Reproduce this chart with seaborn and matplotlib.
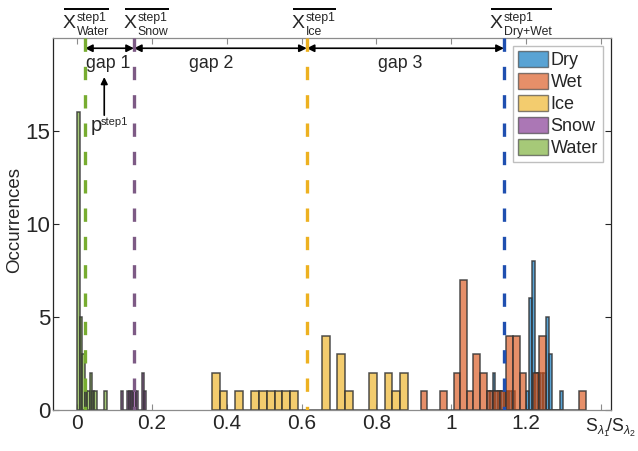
import matplotlib
matplotlib.use("Agg")
import matplotlib.pyplot as plt
import numpy as np
import pandas as pd
import seaborn as sns
from matplotlib.lines import Line2D
from matplotlib.patches import Patch
from matplotlib.transforms import IdentityTransform

# histogram of each class:
# left edge of the first bin, bin width, and the count in every bin
classes = ["Dry", "Wet", "Ice", "Snow", "Water"]

dry_start, dry_width = 1.0956, 0.0075
dry_counts = [1, 1, 2, 1, 1, 1, 1, 1, 1, 1, 0, 0, 0, 0, 1, 6, 8, 2, 2, 2, 2, 5, 3, 0, 0, 0, 1]

wet_start, wet_width = 0.9182, 0.01763
wet_counts = [1, 0, 0, 1, 0, 2, 7, 1, 3, 2, 1, 1, 1, 4, 4, 2, 0, 2, 4, 0, 0, 0, 0, 0, 1]

ice_start, ice_width = 0.36, 0.021
ice_counts = [2, 1, 0, 1, 0, 1, 1, 1, 1, 1, 1, 0, 0, 0, 4, 0, 3, 1, 0, 0, 2, 0, 2, 1, 2]

snow_start, snow_width = 0.118, 0.0055
snow_counts = [1, 0, 0, 1, 1, 1, 1, 1, 0, 0, 2, 1]

water_start, water_width = 0.001, 0.0065
water_counts = [16, 5, 3, 1, 1, 2, 1, 1, 0, 0, 0, 1]

# step-1 class means (dashed lines)
mean_names = ["Water", "Snow", "Ice", "Dry+Wet"]
mean_values = [0.0215, 0.1523, 0.614, 1.1408]
gap_labels = ["gap 1", "gap 2", "gap 3"]

xtick_values = [0, 0.2, 0.4, 0.6, 0.8, 1.0, 1.2, 1.4]
xtick_labels = ["0", "0.2", "0.4", "0.6", "0.8", "1", "1.2", ""]
ytick_values = [0, 5, 10, 15]

hist_colors = {"Dry": "#0072BD", "Wet": "#D95319", "Ice": "#EDB120",
               "Snow": "#7E2F8E", "Water": "#77AC30"}
line_colors = {"Water": "#77AC30", "Snow": "#7d5a85", "Ice": "#EDB120", "Dry+Wet": "#1f4fb0"}

bin_specs = {
    "Dry": (dry_start, dry_width, dry_counts),
    "Wet": (wet_start, wet_width, wet_counts),
    "Ice": (ice_start, ice_width, ice_counts),
    "Snow": (snow_start, snow_width, snow_counts),
    "Water": (water_start, water_width, water_counts),
}

sns.set_style("white")
plt.rcParams["font.family"] = ["Liberation Sans", "DejaVu Sans"]
plt.rcParams["mathtext.fontset"] = "custom"
plt.rcParams["mathtext.rm"] = "Liberation Sans"
plt.rcParams["mathtext.it"] = "Liberation Sans:italic"

fig = plt.figure(figsize=(6.38, 4.51), dpi=100)
ax = fig.add_axes([0.0831, 0.0909, 0.8746, 0.8248])

alpha = 0.65
edge = (0.2, 0.2, 0.2, 0.85)
for name in classes:
    start, width, counts = bin_specs[name]
    edges = start + width * np.arange(len(counts) + 1)
    df = pd.DataFrame({"value": (edges[:-1] + edges[1:]) / 2, "count": counts})
    sns.histplot(data=df, x="value", weights="count", bins=edges.tolist(), ax=ax,
                 color=hist_colors[name], alpha=alpha, edgecolor=edge, linewidth=1.1)

ax.set_xlim(-0.064, 1.427)
ax.set_ylim(0, 20)

# dashed mean lines, drawn from the top down so the dash phase starts at the top
for name, val in zip(mean_names, mean_values):
    ax.axvline(val, ymin=1, ymax=0, color=line_colors[name], lw=2.4,
               ls=(0, (4, 4.5)), zorder=5)

# overlined X^step1_class labels above the axes
label_dx = [-16, -7.2, -10.7, -10.1]
xtrans = ax.get_xaxis_transform()
label_parts = []
for name, val, dx in zip(mean_names, mean_values, label_dx):
    base = dict(xy=(val, 1.0), xycoords=xtrans, textcoords="offset points",
                ha="left", va="baseline", annotation_clip=False)
    t_x = ax.annotate("X", xytext=(dx, 7.2), fontsize=14, **base)
    t_sup = ax.annotate("step1", xytext=(dx + 10, 12.6), fontsize=8.8, **base)
    t_sub = ax.annotate(name, xytext=(dx + 10, 2.5), fontsize=8.8, **base)
    label_parts.append((t_x, t_sup, t_sub))

# gap arrows between consecutive means
arrow_y = 19.45
gap_dx = [-1, -6.5, -3.5]
for i, lab in enumerate(gap_labels):
    x0, x1 = mean_values[i], mean_values[i + 1]
    ax.annotate("", xy=(x1, arrow_y), xytext=(x0, arrow_y),
                arrowprops=dict(arrowstyle="<|-|>", color="black", lw=1.2,
                                shrinkA=0, shrinkB=0, mutation_scale=11))
    ax.annotate(lab, xy=((x0 + x1) / 2, 18.65), xytext=(gap_dx[i], 0),
                textcoords="offset points", ha="center", va="center", fontsize=12.8)

# p^step1 marker
px = 0.0729
ax.annotate("", xy=(px, 17.9), xytext=(px, 15.85),
            arrowprops=dict(arrowstyle="-|>", color="black", lw=1.2,
                            shrinkA=0, shrinkB=0, mutation_scale=10))
ax.annotate("p", xy=(0.0366, 15.0), ha="left", va="baseline", fontsize=14.5)
ax.annotate("step1", xy=(0.0366, 15.0), xytext=(7.2, 4.5), textcoords="offset points",
            ha="left", va="baseline", fontsize=8)

# axes styling (boxed, inward ticks)
ax.set_xticks(xtick_values)
ax.set_xticklabels(xtick_labels)
ax.set_yticks(ytick_values)
ax.tick_params(axis="x", direction="in", length=4, width=0.8, top=True, bottom=True,
               labelsize=15, pad=3, color="#8c8c8c")
ax.tick_params(axis="y", direction="in", length=4, width=0.8, left=True, right=True,
               labelsize=16, pad=2, color="#262626")
for side in ["top", "bottom"]:
    ax.spines[side].set_color("#8c8c8c")
    ax.spines[side].set_linewidth(0.9)
for side in ["left", "right"]:
    ax.spines[side].set_color("#262626")
    ax.spines[side].set_linewidth(0.9)

ax.set_xlabel("")
ax.set_ylabel("Occurrences", fontsize=13.5)
ax.yaxis.set_label_coords(-0.054, 0.51)

ax.text(0.953, -0.059, r"$\mathrm{S}_{\lambda_1}\!/\mathrm{S}_{\lambda_2}$",
        transform=ax.transAxes, ha="left", va="baseline", fontsize=12.8)

handles = [Patch(facecolor=hist_colors[c], alpha=alpha, edgecolor="#404040", linewidth=1.0)
           for c in classes]
leg = ax.legend(handles, classes, loc="upper right", bbox_to_anchor=(0.9857, 0.9785),
                borderaxespad=0, fontsize=13, frameon=True, fancybox=False,
                handlelength=1.65, handleheight=1.0, handletextpad=0.15,
                labelspacing=0.2, borderpad=0.28)
leg.get_frame().set_edgecolor("#b0b0b0")
leg.get_frame().set_linewidth(1.0)

# overlines spanning each label
fig.canvas.draw()
renderer = fig.canvas.get_renderer()
for parts in label_parts:
    boxes = [t.get_window_extent(renderer) for t in parts]
    x0 = boxes[0].x0 + 1
    x1 = max(b.x1 for b in boxes)
    ytop = max(b.y1 for b in boxes) + 3
    fig.add_artist(Line2D([x0, x1], [ytop, ytop], transform=IdentityTransform(),
                          color="black", lw=1.4, solid_capstyle="butt"))

fig.savefig("out.png", dpi=100)
